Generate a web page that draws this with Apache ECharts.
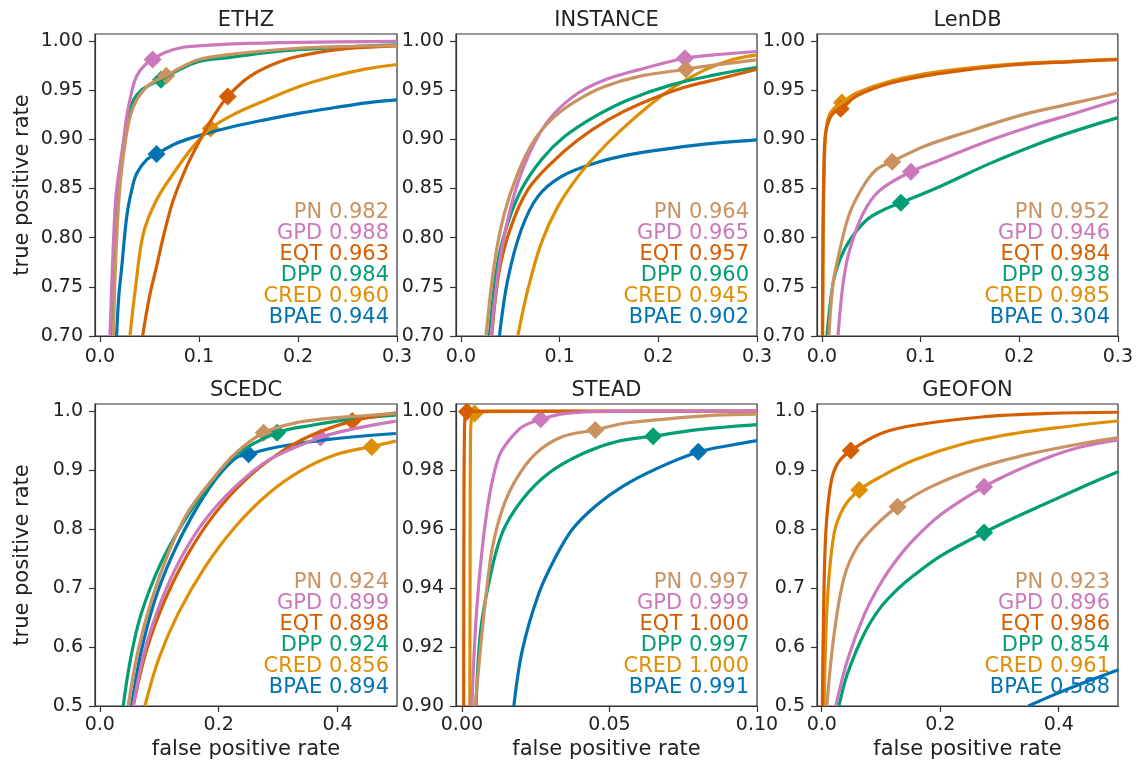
<!DOCTYPE html>
<html><head><meta charset="utf-8">
<script src="https://cdn.jsdelivr.net/npm/echarts@6/dist/echarts.min.js"></script>
<style>html,body{margin:0;padding:0;background:#fff}#c{width:1136px;height:764px}</style>
</head><body><div id="c"></div><script>
// ---------- data ----------
const models = ['PN','GPD','EQT','DPP','CRED','BPAE'];          // legend order
const plotOrder = ['BPAE','CRED','DPP','EQT','GPD','PN'];       // drawing order
const datasets = ['ETHZ','INSTANCE','LenDB','SCEDC','STEAD','GEOFON'];

const auc_ETHZ     = [0.982,0.988,0.963,0.984,0.960,0.944];
const auc_INSTANCE = [0.964,0.965,0.957,0.960,0.945,0.902];
const auc_LenDB    = [0.952,0.946,0.984,0.938,0.985,0.304];
const auc_SCEDC    = [0.924,0.899,0.898,0.924,0.856,0.894];
const auc_STEAD    = [0.997,0.999,1.000,0.997,1.000,0.991];
const auc_GEOFON   = [0.923,0.896,0.986,0.854,0.961,0.588];

const xticks_top   = [0,0.1,0.2,0.3];
const yticks_top   = [0.70,0.75,0.80,0.85,0.90,0.95,1.00];
const xticks_wide  = [0,0.2,0.4];
const yticks_wide  = [0.5,0.6,0.7,0.8,0.9,1.0];
const xticks_STEAD = [0,0.05,0.10];
const yticks_STEAD = [0.90,0.92,0.94,0.96,0.98,1.00];

// ETHZ
const roc_ETHZ_PN   = [[0.0135,0.70],[0.016,0.78],[0.020,0.85],[0.026,0.90],[0.031,0.925],[0.037,0.94],[0.045,0.951],[0.055,0.959],[0.067,0.9646],[0.08,0.972],[0.10,0.981],[0.13,0.986],[0.168,0.990],[0.2,0.9925],[0.236,0.994],[0.27,0.9948],[0.3,0.9952]];
const roc_ETHZ_GPD  = [[0.0101,0.70],[0.013,0.78],[0.016,0.84],[0.020,0.872],[0.024,0.90],[0.027,0.923],[0.032,0.948],[0.037,0.964],[0.045,0.975],[0.0532,0.981],[0.065,0.988],[0.084,0.9935],[0.10,0.995],[0.135,0.997],[0.2,0.9985],[0.3,0.9995]];
const roc_ETHZ_EQT  = [[0.0431,0.70],[0.050,0.74],[0.057,0.77],[0.065,0.805],[0.074,0.838],[0.0875,0.872],[0.101,0.899],[0.1145,0.923],[0.129,0.9435],[0.1515,0.964],[0.185,0.980],[0.219,0.988],[0.26,0.993],[0.3,0.995]];
const roc_ETHZ_DPP  = [[0.0118,0.70],[0.015,0.78],[0.019,0.85],[0.025,0.90],[0.030,0.925],[0.034,0.94],[0.042,0.950],[0.052,0.956],[0.0616,0.9605],[0.075,0.968],[0.10,0.979],[0.13,0.983],[0.168,0.988],[0.2,0.991],[0.25,0.994],[0.3,0.996]];
const roc_ETHZ_CRED = [[0.0303,0.70],[0.036,0.75],[0.0438,0.804],[0.057,0.838],[0.074,0.865],[0.094,0.8925],[0.1118,0.911],[0.1347,0.925],[0.168,0.940],[0.202,0.954],[0.236,0.964],[0.269,0.9715],[0.3,0.976]];
const roc_ETHZ_BPAE = [[0.0168,0.70],[0.019,0.74],[0.022,0.77],[0.027,0.821],[0.032,0.848],[0.037,0.865],[0.047,0.879],[0.0572,0.885],[0.0774,0.896],[0.101,0.904],[0.1347,0.913],[0.168,0.920],[0.202,0.9265],[0.236,0.932],[0.269,0.937],[0.3,0.940]];
const mk_ETHZ = [[0.067,0.9646],[0.0532,0.981],[0.129,0.9435],[0.0616,0.9605],[0.1118,0.911],[0.0572,0.885]];

// INSTANCE
const roc_INSTANCE_PN   = [[0.0254,0.70],[0.0339,0.774],[0.044,0.8247],[0.0576,0.8654],[0.0745,0.8993],[0.0948,0.923],[0.1185,0.940],[0.1456,0.9536],[0.1795,0.9637],[0.228,0.9712],[0.264,0.9763],[0.3,0.9807]];
const roc_INSTANCE_GPD  = [[0.0305,0.70],[0.039,0.774],[0.049,0.8247],[0.061,0.8654],[0.0779,0.9027],[0.0948,0.9264],[0.1185,0.9468],[0.1456,0.9603],[0.1795,0.9705],[0.227,0.9824],[0.264,0.9864],[0.3,0.9892]];
const roc_INSTANCE_EQT  = [[0.0312,0.70],[0.039,0.767],[0.0508,0.8112],[0.0677,0.8485],[0.0914,0.8756],[0.1185,0.8993],[0.149,0.9197],[0.1829,0.9366],[0.2235,0.9519],[0.264,0.962],[0.3,0.9712]];
const roc_INSTANCE_DPP  = [[0.0288,0.70],[0.0372,0.774],[0.0474,0.8146],[0.061,0.8485],[0.0813,0.879],[0.105,0.9027],[0.1355,0.923],[0.1693,0.940],[0.2133,0.9553],[0.2574,0.9654],[0.3,0.9732]];
const roc_INSTANCE_CRED = [[0.0576,0.70],[0.0677,0.7468],[0.0813,0.7942],[0.0982,0.8315],[0.1185,0.862],[0.1388,0.8858],[0.1625,0.9095],[0.1896,0.9332],[0.2167,0.9536],[0.2472,0.9705],[0.2743,0.9807],[0.3,0.9858]];
const roc_INSTANCE_BPAE = [[0.039,0.70],[0.0474,0.757],[0.061,0.8078],[0.0779,0.8417],[0.1016,0.862],[0.1355,0.8756],[0.1693,0.8841],[0.2133,0.8908],[0.2574,0.896],[0.3,0.8993]];
const mk_INSTANCE = [[0.228,0.9712],[0.227,0.9824],null,null,null,null];

// LenDB
const roc_LenDB_PN   = [[0.0071,0.70],[0.0112,0.753],[0.018,0.787],[0.028,0.8245],[0.0417,0.852],[0.055,0.869],[0.0712,0.8772],[0.1027,0.8925],[0.1536,0.9095],[0.204,0.925],[0.255,0.9367],[0.3,0.947]];
const roc_LenDB_GPD  = [[0.0163,0.70],[0.0214,0.753],[0.028,0.787],[0.0417,0.8245],[0.0586,0.848],[0.0902,0.867],[0.1197,0.879],[0.1705,0.899],[0.221,0.916],[0.255,0.926],[0.3,0.940]];
const roc_LenDB_EQT  = [[0.0005,0.70],[0.001,0.80],[0.002,0.87],[0.0035,0.905],[0.0078,0.921],[0.013,0.928],[0.019,0.931],[0.035,0.944],[0.069,0.957],[0.12,0.967],[0.187,0.975],[0.255,0.979],[0.3,0.981]];
const roc_LenDB_DPP  = [[0.0051,0.70],[0.0112,0.753],[0.018,0.777],[0.028,0.797],[0.045,0.8177],[0.062,0.828],[0.08,0.8354],[0.1197,0.852],[0.1705,0.8755],[0.221,0.896],[0.255,0.908],[0.3,0.922]];
const roc_LenDB_CRED = [[0.0008,0.70],[0.0013,0.80],[0.0023,0.87],[0.004,0.908],[0.008,0.926],[0.0146,0.933],[0.0203,0.937],[0.035,0.947],[0.069,0.959],[0.12,0.969],[0.187,0.976],[0.255,0.9795],[0.3,0.9815]];
const roc_LenDB_BPAE = [];
const mk_LenDB = [[0.0712,0.8772],[0.0902,0.867],[0.019,0.931],[0.08,0.8354],[0.0203,0.9374],null];

// SCEDC
const roc_SCEDC_PN   = [[0.0478,0.50],[0.0647,0.595],[0.0872,0.6797],[0.1153,0.7588],[0.147,0.8266],[0.1885,0.883],[0.228,0.928],[0.2757,0.9633],[0.329,0.980],[0.3854,0.9876],[0.45,0.9925],[0.498,0.996]];
const roc_SCEDC_GPD  = [[0.0563,0.50],[0.076,0.595],[0.104,0.6797],[0.1378,0.7531],[0.1772,0.8153],[0.228,0.8718],[0.284,0.917],[0.3713,0.9554],[0.4304,0.9706],[0.498,0.983]];
const roc_SCEDC_EQT  = [[0.0563,0.50],[0.0788,0.595],[0.1097,0.6797],[0.149,0.7588],[0.194,0.8266],[0.2447,0.883],[0.301,0.928],[0.357,0.9593],[0.4248,0.983],[0.498,0.997]];
const roc_SCEDC_DPP  = [[0.0394,0.50],[0.050,0.57],[0.065,0.64],[0.085,0.70],[0.11,0.757],[0.150,0.826],[0.1865,0.8774],[0.228,0.925],[0.2982,0.9633],[0.357,0.976],[0.42,0.986],[0.498,0.993]];
const roc_SCEDC_CRED = [[0.076,0.50],[0.0985,0.578],[0.132,0.657],[0.1772,0.736],[0.228,0.804],[0.284,0.8604],[0.34,0.90],[0.3966,0.926],[0.4574,0.940],[0.498,0.949]];
const roc_SCEDC_BPAE = [[0.0534,0.50],[0.0703,0.595],[0.0928,0.6797],[0.121,0.7531],[0.1547,0.821],[0.194,0.883],[0.228,0.9198],[0.2503,0.927],[0.301,0.9395],[0.3854,0.952],[0.498,0.962]];
const mk_SCEDC = [[0.2757,0.9633],[0.3713,0.9554],[0.4248,0.983],[0.2982,0.9633],[0.4574,0.939],[0.2503,0.927]];

// STEAD
const roc_STEAD_PN   = [[0.0045,0.90],[0.00625,0.919],[0.008,0.936],[0.0102,0.953],[0.0136,0.9664],[0.0182,0.9766],[0.025,0.9856],[0.034,0.9913],[0.0452,0.9936],[0.0545,0.9958],[0.066,0.997],[0.0858,0.9986],[0.1,0.999]];
const roc_STEAD_GPD  = [[0.0034,0.90],[0.0045,0.9246],[0.00625,0.9472],[0.0091,0.970],[0.0125,0.9845],[0.0159,0.990],[0.0205,0.9947],[0.0267,0.9972],[0.0352,0.9992],[0.05,0.9999],[0.1,1.0]];
const roc_STEAD_EQT  = [[0.0006,0.90],[0.0007,0.97],[0.0009,0.995],[0.0012,0.9992],[0.0017,0.9998],[0.01,1.0],[0.1,1.0]];
const roc_STEAD_DPP  = [[0.0048,0.90],[0.00625,0.9246],[0.0091,0.9416],[0.0136,0.9585],[0.0205,0.970],[0.0295,0.979],[0.041,0.9856],[0.0523,0.9896],[0.0648,0.9915],[0.0801,0.9937],[0.1,0.9954]];
const roc_STEAD_CRED = [[0.0027,0.90],[0.0028,0.96],[0.0029,0.99],[0.0032,0.997],[0.0043,0.9992],[0.008,0.9998],[0.1,1.0]];
const roc_STEAD_BPAE = [[0.0176,0.90],[0.0205,0.919],[0.026,0.938],[0.0318,0.9506],[0.0375,0.960],[0.0455,0.968],[0.0545,0.9745],[0.066,0.9805],[0.0801,0.9861],[0.0915,0.9885],[0.1,0.990]];
const mk_STEAD = [[0.0452,0.9936],[0.0267,0.9972],[0.0017,0.9998],[0.0648,0.9915],[0.0043,0.9992],[0.0801,0.9862]];

// GEOFON
const roc_GEOFON_PN   = [[0.0085,0.50],[0.021,0.623],[0.038,0.719],[0.06,0.77],[0.0887,0.804],[0.128,0.838],[0.185,0.872],[0.27,0.9056],[0.354,0.928],[0.439,0.945],[0.501,0.955]];
const roc_GEOFON_GPD  = [[0.0237,0.50],[0.0435,0.578],[0.0718,0.655],[0.1,0.709],[0.128,0.750],[0.156,0.783],[0.2017,0.825],[0.274,0.8718],[0.326,0.898],[0.382,0.9215],[0.439,0.9395],[0.501,0.951]];
const roc_GEOFON_EQT  = [[0.001,0.50],[0.003,0.65],[0.0068,0.793],[0.0153,0.877],[0.0266,0.911],[0.049,0.933],[0.1,0.962],[0.156,0.976],[0.27,0.990],[0.382,0.996],[0.501,0.998]];
const roc_GEOFON_DPP  = [[0.029,0.50],[0.0435,0.555],[0.0718,0.623],[0.1,0.668],[0.128,0.698],[0.156,0.722],[0.2017,0.755],[0.274,0.794],[0.326,0.8195],[0.382,0.845],[0.439,0.871],[0.501,0.8975]];
const roc_GEOFON_CRED = [[0.004,0.50],[0.0096,0.68],[0.021,0.793],[0.038,0.838],[0.0633,0.866],[0.1,0.889],[0.156,0.917],[0.241,0.945],[0.326,0.962],[0.411,0.9734],[0.501,0.9836]];
const roc_GEOFON_BPAE = [[0.3486,0.50],[0.3966,0.521],[0.453,0.5436],[0.501,0.5616]];
const mk_GEOFON = [[0.128,0.838],[0.274,0.8718],[0.049,0.933],[0.274,0.794],[0.0633,0.866],null];

// ---------- assembly ----------
const roc = {
  ETHZ:{PN:roc_ETHZ_PN,GPD:roc_ETHZ_GPD,EQT:roc_ETHZ_EQT,DPP:roc_ETHZ_DPP,CRED:roc_ETHZ_CRED,BPAE:roc_ETHZ_BPAE},
  INSTANCE:{PN:roc_INSTANCE_PN,GPD:roc_INSTANCE_GPD,EQT:roc_INSTANCE_EQT,DPP:roc_INSTANCE_DPP,CRED:roc_INSTANCE_CRED,BPAE:roc_INSTANCE_BPAE},
  LenDB:{PN:roc_LenDB_PN,GPD:roc_LenDB_GPD,EQT:roc_LenDB_EQT,DPP:roc_LenDB_DPP,CRED:roc_LenDB_CRED,BPAE:roc_LenDB_BPAE},
  SCEDC:{PN:roc_SCEDC_PN,GPD:roc_SCEDC_GPD,EQT:roc_SCEDC_EQT,DPP:roc_SCEDC_DPP,CRED:roc_SCEDC_CRED,BPAE:roc_SCEDC_BPAE},
  STEAD:{PN:roc_STEAD_PN,GPD:roc_STEAD_GPD,EQT:roc_STEAD_EQT,DPP:roc_STEAD_DPP,CRED:roc_STEAD_CRED,BPAE:roc_STEAD_BPAE},
  GEOFON:{PN:roc_GEOFON_PN,GPD:roc_GEOFON_GPD,EQT:roc_GEOFON_EQT,DPP:roc_GEOFON_DPP,CRED:roc_GEOFON_CRED,BPAE:roc_GEOFON_BPAE}
};
const aucs = {ETHZ:auc_ETHZ,INSTANCE:auc_INSTANCE,LenDB:auc_LenDB,SCEDC:auc_SCEDC,STEAD:auc_STEAD,GEOFON:auc_GEOFON};
const mks = {ETHZ:mk_ETHZ,INSTANCE:mk_INSTANCE,LenDB:mk_LenDB,SCEDC:mk_SCEDC,STEAD:mk_STEAD,GEOFON:mk_GEOFON};

const FONT = '"DejaVu Sans", sans-serif';
const INK = '#222222';
const colorOf = {PN:'#ca9161',GPD:'#cc78bc',EQT:'#d55e00',DPP:'#029e73',CRED:'#de8f05',BPAE:'#0173b2'};

const panels = [
  {left:95,  top:34,  w:302, h:302, x:[-0.005,0.3], y:[0.70,1.007], xt:xticks_top,   yt:yticks_top,   xd:1, yd:2, row:0, col:0},
  {left:456, top:34,  w:301, h:302, x:[-0.005,0.3], y:[0.70,1.007], xt:xticks_top,   yt:yticks_top,   xd:1, yd:2, row:0, col:1},
  {left:817, top:34,  w:301, h:302, x:[-0.005,0.3], y:[0.70,1.007], xt:xticks_top,   yt:yticks_top,   xd:1, yd:2, row:0, col:2},
  {left:95,  top:404, w:302, h:302, x:[-0.008,0.5], y:[0.50,1.012], xt:xticks_wide,  yt:yticks_wide,  xd:1, yd:1, row:1, col:0},
  {left:456, top:404, w:301, h:302, x:[-0.002,0.1], y:[0.90,1.0024],xt:xticks_STEAD, yt:yticks_STEAD, xd:2, yd:2, row:1, col:1},
  {left:817, top:404, w:301, h:302, x:[-0.008,0.5], y:[0.50,1.012], xt:xticks_wide,  yt:yticks_wide,  xd:1, yd:1, row:1, col:2}
];

const grids = [], xAxes = [], yAxes = [], series = [], graphics = [];
panels.forEach((p, i) => {
  const ds = datasets[i];
  grids.push({left:p.left, top:p.top, width:p.w, height:p.h, show:true, borderColor:'#333', borderWidth:1.2, backgroundColor:'transparent'});
  const axLine = {show:true, onZero:false, lineStyle:{color:'#333', width:1.2}};
  xAxes.push({gridIndex:i, type:'value', min:p.x[0], max:p.x[1],
    axisLine:axLine,
    axisTick:{show:true, inside:false, length:6, customValues:p.xt, lineStyle:{color:'#333', width:1.2}},
    axisLabel:{show:true, customValues:p.xt, formatter:v => Number(v).toFixed(p.xd), fontSize:19, fontFamily:FONT, color:INK, margin:p.row === 0 ? 12 : 10},
    splitLine:{show:false}});
  yAxes.push({gridIndex:i, type:'value', min:p.y[0], max:p.y[1],
    axisLine:axLine,
    axisTick:{show:true, inside:false, length:6, customValues:p.yt, lineStyle:{color:'#333', width:1.2}},
    axisLabel:{show:true, customValues:p.yt, formatter:v => Number(v).toFixed(p.yd), fontSize:19, fontFamily:FONT, color:INK, margin:12},
    splitLine:{show:false}});
  plotOrder.forEach(m => {
    const c = colorOf[m];
    series.push({type:'line', name:ds+' '+m, xAxisIndex:i, yAxisIndex:i, data:roc[ds][m],
      showSymbol:false, symbol:'none', smooth:0.35, clip:true, silent:true,
      lineStyle:{color:c, width:3.2}, itemStyle:{color:c}});
    const mk = mks[ds][models.indexOf(m)];
    if (mk) series.push({type:'scatter', xAxisIndex:i, yAxisIndex:i, data:[mk], symbol:'diamond',
      symbolSize:18, silent:true, clip:false, itemStyle:{color:c, opacity:1}});
  });
  graphics.push({type:'text', x:p.left + p.w/2, y:p.top - 13,
    style:{text:ds, font:'21px '+FONT, fill:INK, textAlign:'center', textVerticalAlign:'middle', align:'center', verticalAlign:'middle'}});
  models.forEach((m, k) => {
    graphics.push({type:'text', x:p.left + p.w - 8, y:p.top + p.h - 18 - (models.length - 1 - k) * 21,
      style:{text:m + ' ' + aucs[ds][k].toFixed(3), font:'21px '+FONT, fill:colorOf[m],
        textAlign:'right', textVerticalAlign:'middle', align:'right', verticalAlign:'middle'}});
  });
  if (p.row === 1) graphics.push({type:'text', x:p.left + p.w/2, y:750,
    style:{text:'false positive rate', font:'21px '+FONT, fill:INK, textAlign:'center', textVerticalAlign:'middle', align:'center', verticalAlign:'middle'}});
  if (p.col === 0) graphics.push({type:'text', x:23, y:p.top + p.h/2, rotation:Math.PI/2,
    style:{text:'true positive rate', font:'21px '+FONT, fill:INK, textAlign:'center', textVerticalAlign:'middle', align:'center', verticalAlign:'middle'}});
});

const chart = echarts.init(document.getElementById('c'), null, {renderer:'canvas'});
chart.setOption({
  animation:false, backgroundColor:'#ffffff',
  grid:grids, xAxis:xAxes, yAxis:yAxes, series:series,
  graphic:{elements:graphics}
});
</script></body></html>
